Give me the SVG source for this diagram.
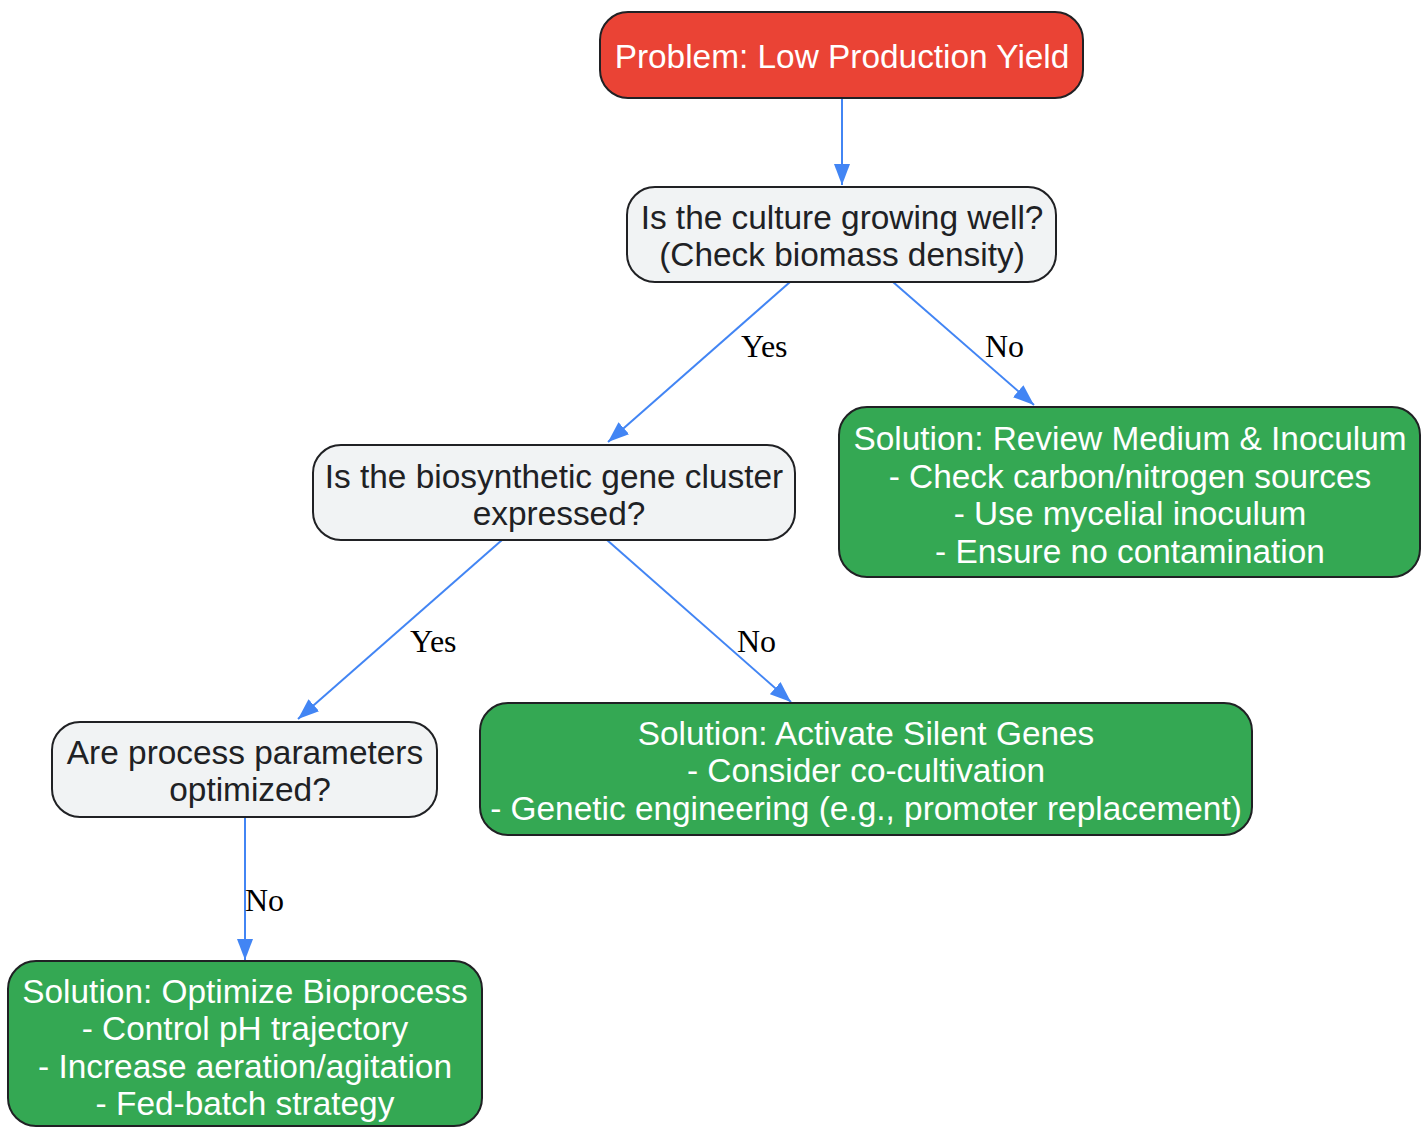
<svg xmlns="http://www.w3.org/2000/svg" width="1428" height="1127" viewBox="0 0 1428 1127">
<style>
.node{stroke:#202124;stroke-width:2}
.red{fill:#EA4335}
.gray{fill:#F1F3F4}
.green{fill:#34A853}
.t{font-family:"Liberation Sans",Arial,sans-serif;font-size:33.4px;text-anchor:middle}
.dark{fill:#202124}
.light{fill:#FFFFFF}
.edge{stroke:#4285F4;stroke-width:2;fill:none}
.lbl{font-family:"Liberation Serif","Times New Roman",serif;font-size:32px;fill:#000000}
</style>
<defs>
<marker id="arrow" viewBox="0 0 21 16" refX="21" refY="8" markerWidth="21" markerHeight="16" markerUnits="userSpaceOnUse" orient="auto">
<path d="M0,0 L21,8 L0,16 z" fill="#4285F4"/>
</marker>
</defs>
<g id="connectors">
<line class="edge" x1="842" y1="98" x2="842" y2="185" marker-end="url(#arrow)"/>
<line class="edge" x1="790" y1="282" x2="608" y2="442" marker-end="url(#arrow)"/>
<text class="lbl" x="741" y="357">Yes</text>
<line class="edge" x1="893" y1="282" x2="1034" y2="405" marker-end="url(#arrow)"/>
<text class="lbl" x="985" y="357">No</text>
<line class="edge" x1="502" y1="540" x2="298" y2="719" marker-end="url(#arrow)"/>
<text class="lbl" x="410" y="652">Yes</text>
<line class="edge" x1="607" y1="540" x2="791" y2="702" marker-end="url(#arrow)"/>
<text class="lbl" x="737" y="652">No</text>
<line class="edge" x1="245" y1="817" x2="245" y2="960" marker-end="url(#arrow)"/>
<text class="lbl" x="245" y="911">No</text>
</g>
<g id="problem">
<rect class="node red" x="600" y="12" width="483" height="86" rx="28"/>
<text class="t light" x="842" y="68">Problem: Low Production Yield</text>
</g>
<g id="q_growth">
<rect class="node gray" x="627" y="187" width="429" height="95" rx="28"/>
<text class="t dark" x="842" y="229">Is the culture growing well?</text>
<text class="t dark" x="842" y="266">(Check biomass density)</text>
</g>
<g id="q_expressed">
<rect class="node gray" x="313" y="445" width="482" height="95" rx="28"/>
<text class="t dark" x="554" y="488">Is the biosynthetic gene cluster</text>
<text class="t dark" x="559" y="525">expressed?</text>
</g>
<g id="sol_medium">
<rect class="node green" x="839" y="407" width="581" height="170" rx="28"/>
<text class="t light" x="1130" y="450">Solution: Review Medium &amp; Inoculum</text>
<text class="t light" x="1130" y="488">- Check carbon/nitrogen sources</text>
<text class="t light" x="1130" y="525">- Use mycelial inoculum</text>
<text class="t light" x="1130" y="563">- Ensure no contamination</text>
</g>
<g id="q_process">
<rect class="node gray" x="52" y="722" width="385" height="95" rx="28"/>
<text class="t dark" x="245" y="764">Are process parameters</text>
<text class="t dark" x="250" y="801">optimized?</text>
</g>
<g id="sol_silent">
<rect class="node green" x="480" y="703" width="772" height="132" rx="28"/>
<text class="t light" x="866" y="745">Solution: Activate Silent Genes</text>
<text class="t light" x="866" y="782">- Consider co-cultivation</text>
<text class="t light" x="866" y="820">- Genetic engineering (e.g., promoter replacement)</text>
</g>
<g id="sol_bioprocess">
<rect class="node green" x="8" y="961" width="474" height="165" rx="28"/>
<text class="t light" x="245" y="1003">Solution: Optimize Bioprocess</text>
<text class="t light" x="245" y="1040">- Control pH trajectory</text>
<text class="t light" x="245" y="1078">- Increase aeration/agitation</text>
<text class="t light" x="245" y="1115">- Fed-batch strategy</text>
</g>
</svg>
